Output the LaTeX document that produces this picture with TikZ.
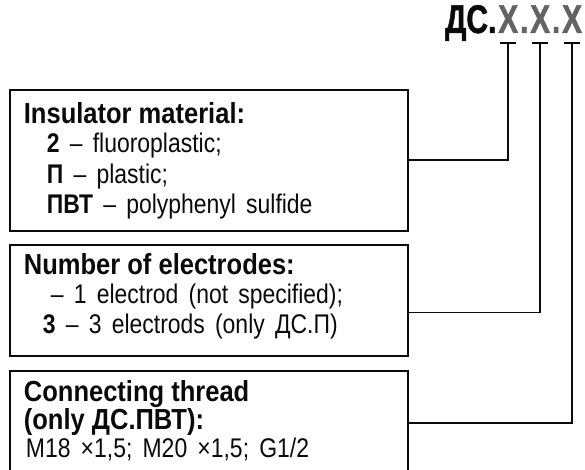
\documentclass[tikz,border=0pt]{standalone}
\usepackage{fontspec}
\setmainfont[FakeStretch=0.85, WordSpace=1.6]{Liberation Sans}
\newfontfamily\headfont[FakeStretch=0.88]{Liberation Sans}
\newfontfamily\titlefont[FakeStretch=0.75, BoldFeatures={FakeBold=1.2}]{Liberation Sans}
\usetikzlibrary{positioning}
\definecolor{codegray}{HTML}{636363}
\definecolor{ink}{HTML}{0A0A0A}

\begin{document}
\begin{tikzpicture}[x=1pt, y=-1pt, line width=1.8pt, draw=ink]

  % Default font and styles
  \tikzset{every node/.style={inner sep=0pt, text=ink, font=\fontsize{27}{30}\selectfont}}
  \tikzset{codechar/.style={anchor=base east, font=\titlefont\bfseries\fontsize{40}{40}\selectfont}}
  \tikzset{legendbox/.style={draw=ink, line width=1.8pt, minimum width=398pt, anchor=north west}}
  \tikzset{boxhead/.style={anchor=base west, font=\headfont\bfseries\fontsize{29}{30}\selectfont}}
  \tikzset{boxline/.style={anchor=base west}}

  \useasboundingbox (0,0) rectangle (585,470);
  \clip (0,0) rectangle (585,470);

  % Code: DS.X.X.X
  \node[codechar, text=codegray] (code_x3) at (583,33) {X};
  \node[codechar, text=codegray] (code_dot2) at (code_x3.base west) {.};
  \node[codechar, text=codegray] (code_x2) at (code_dot2.base west) {X};
  \node[codechar, text=codegray] (code_dot1) at (code_x2.base west) {.};
  \node[codechar, text=codegray] (code_x1) at (code_dot1.base west) {X};
  \node[codechar] (code_ds) at (code_x1.base west) {ДС.};

  \coordinate (tick1) at ([yshift=-10pt]code_x1.base);
  \coordinate (tick2) at ([yshift=-10pt]code_x2.base);
  \coordinate (tick3) at ([yshift=-10pt]code_x3.base);

  % Box 1: Insulator material
  \node[legendbox, minimum height=141pt] (box_insulator) at (9,89) {};
  \node[boxhead] (ins_title) at (23,124) {Insulator material:};
  \node[boxline] (ins_item1) at (46,153) {\textbf{2} – fluoroplastic;};
  \node[boxline] (ins_item2) at (46,183) {\textbf{П} – plastic;};
  \node[boxline] (ins_item3) at (46,213) {\textbf{ПВТ} – polyphenyl sulfide};

  % Box 2: Number of electrodes
  \node[legendbox, minimum height=111pt] (box_electrodes) at (9,244) {};
  \node[boxhead] (el_title) at (23,274) {Number of electrodes:};
  \node[boxline] (el_item1) at (50,303) {– 1 electrod (not specified);};
  \node[boxline] (el_item2) at (42,333) {\textbf{3} – 3 electrods (only ДС.П)};

  % Box 3: Connecting thread
  \node[legendbox, minimum height=104pt] (box_thread) at (9,370) {};
  \node[boxhead] (thr_title1) at (23,401) {Connecting thread};
  \node[boxhead] (thr_title2) at (23,429) {(only ДС.ПВТ):};
  \node[boxline] (thr_item1) at (25,457) {M18 ×1,5; M20 ×1,5; G1/2};

  % Connectors
  \draw ([xshift=-8pt]tick1) -- ([xshift=8pt]tick1);
  \draw ([xshift=-8pt]tick2) -- ([xshift=8pt]tick2);
  \draw ([xshift=-8pt]tick3) -- ([xshift=8pt]tick3);
  \draw (tick1) |- (box_insulator.east);
  \draw (tick2) |- ([yshift=-12pt]box_electrodes.east);
  \draw (tick3) |- (box_thread.east);

\end{tikzpicture}
\end{document}
